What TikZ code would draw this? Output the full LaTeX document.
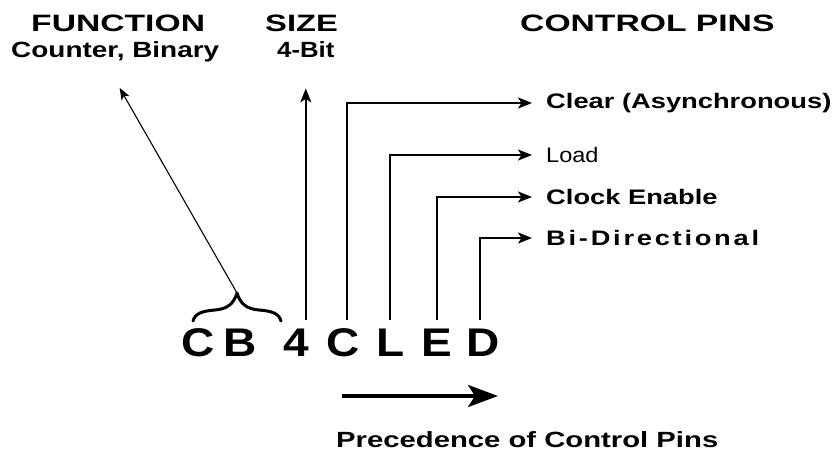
\documentclass[tikz,border=0pt]{standalone}
\usepackage{fontspec}
\setmainfont{Liberation Sans}
\usetikzlibrary{arrows.meta}

\begin{document}
\begin{tikzpicture}[x=1pt,y=-1pt,
  txt/.style={inner sep=0pt, anchor=base west},
  heading/.style={txt, font=\fontsize{23.7}{28}\selectfont\bfseries},
  sublabel/.style={txt, font=\fontsize{22}{26}\selectfont\bfseries},
  pinlabel/.style={inner ysep=0pt, inner xsep=14pt, anchor=west,
    font=\fontsize{21}{25}\selectfont\bfseries},
  letter/.style={inner sep=0pt, anchor=base, text height=36pt, text depth=0pt,
    font=\fontsize{40}{48}\selectfont\bfseries},
  wire/.style={line width=1.6pt},
  pinarrow/.style={wire, -{Stealth[length=14pt,width=11pt,inset=3.5pt]}},
  fnarrow/.style={line width=1.1pt, -{Stealth[length=12pt,width=9pt,inset=3pt]}},
  bigarrow/.style={line width=4pt, -{Stealth[length=30pt,width=22pt,inset=7pt]}},
  bracestroke/.style={line width=3pt, line cap=round, line join=round}
]
\useasboundingbox (0,0) rectangle (839,457);

% column headings
\node[heading] (fn) at (31,32) {\scalebox{1.42}[1]{FUNCTION}};
\node[heading] (sz) at (265,32) {\scalebox{1.38}[1]{SIZE}};
\node[heading] (cp) at (520,32) {\scalebox{1.42}[1]{CONTROL PINS}};

% function and size descriptions
\node[sublabel] (counter) at (11,58) {\scalebox{1.27}[1]{Counter, Binary}};
\node[sublabel] (bit) at (277,58) {\scalebox{1.17}[1]{4-Bit}};

% the part name, one node per letter
\node[letter] (c1) at (198,356) {\scalebox{1.15}[1]{C}};
\node[letter] (b)  at (240,356) {\scalebox{1.15}[1]{B}};
\node[letter] (four) at (296,356) {\scalebox{1.15}[1]{4}};
\node[letter] (c2) at (343,356) {\scalebox{1.15}[1]{C}};
\node[letter] (l)  at (391,356) {\scalebox{1.15}[1]{L}};
\node[letter] (e)  at (437,356) {\scalebox{1.15}[1]{E}};
\node[letter] (d)  at (483,356) {\scalebox{1.15}[1]{D}};

% control pin labels
\node[pinlabel] (clear) at (532,103) {\scalebox{1.3}[1]{Clear (Asynchronous)}};
\node[pinlabel, font=\fontsize{21}{25}\selectfont\mdseries] (load) at (532,155) {\scalebox{1.12}[1]{Load}};
\node[pinlabel] (clock) at (532,197) {\scalebox{1.3}[1]{Clock Enable}};
\node[pinlabel, font=\fontsize{21}{25}\selectfont\bfseries\addfontfeature{LetterSpace=10}] (bidi) at (532,238) {\scalebox{1.3}[1]{Bi-Directional}};

% brace over the function letters
\coordinate (bracetip) at (237,293);
\draw[bracestroke] (193,321) .. controls (195,313) and (203,311) .. (215,310)
  .. controls (228,309) and (234,303) .. (bracetip)
  .. controls (240,303) and (246,309) .. (259,310)
  .. controls (271,311) and (279,313) .. (281,321);

% function and size pointers
\draw[fnarrow, shorten >=29pt] (bracetip) -- ([xshift=-10pt]counter.south);
\draw[pinarrow, shorten >=30pt] (bit.south |- four.north) -- (bit.south);

% control pin leaders
\draw[pinarrow] ([xshift=4pt]c2.north) |- (clear.west);
\draw[pinarrow] ([xshift=-1pt]l.north) |- (load.west);
\draw[pinarrow] (e.north) |- (clock.west);
\draw[pinarrow] ([xshift=-3pt]d.north) |- (bidi.west);

% precedence arrow
\coordinate (precA) at (342,396);
\coordinate (precB) at (498,396);
\draw[bigarrow] (precA) -- (precB);
\node[sublabel] (prec) at (336,447) {\scalebox{1.33}[1]{Precedence of Control Pins}};
\end{tikzpicture}
\end{document}
